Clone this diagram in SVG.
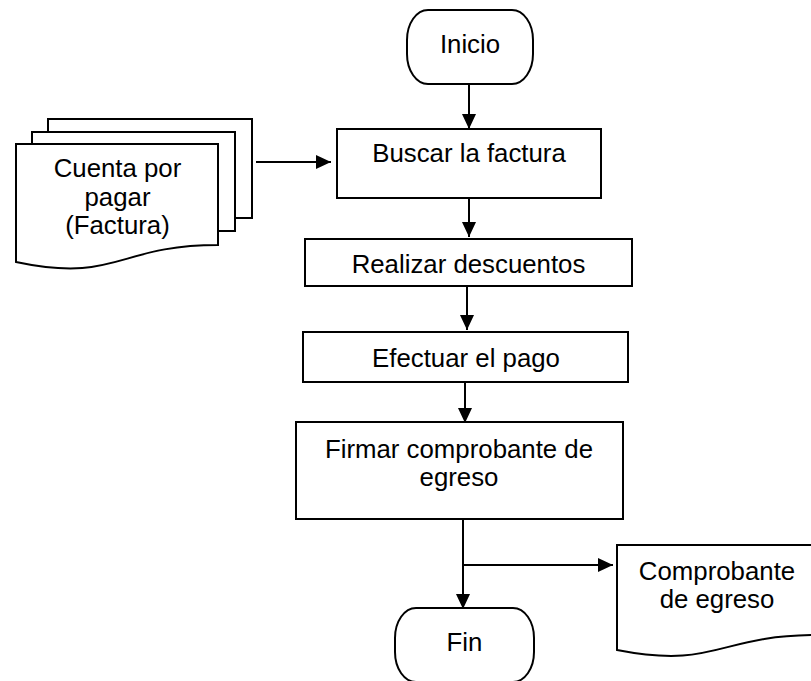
<svg xmlns="http://www.w3.org/2000/svg" width="811" height="681" viewBox="0 0 811 681">
<defs>
<style>
.s{fill:#fff;stroke:#000;stroke-width:2}
.t{font-family:"Liberation Sans",Arial,sans-serif;font-size:25.8px;fill:#000;text-anchor:middle}
.c{fill:none;stroke:#000;stroke-width:2}
</style>
<marker id="ah" markerUnits="userSpaceOnUse" markerWidth="16" markerHeight="14" refX="15" refY="7" orient="auto">
<path d="M0,0 L15,7 L0,14 Z" fill="#000"/>
</marker>
</defs>
<rect width="811" height="681" fill="#fff"/>
<g id="inicio">
<rect class="s" x="407" y="10" width="126" height="74" rx="21" ry="30"/>
<text class="t" x="470" y="53">Inicio</text>
</g>
<g id="cuenta">
<rect class="s" x="48" y="119" width="204" height="99"/>
<rect class="s" x="32" y="132" width="203" height="99"/>
<path class="s" d="M16,144 H218 V245 C117,245 117,283.5 16,262 Z"/>
<text class="t" x="117.5" y="177">Cuenta por</text>
<text class="t" x="117.5" y="206">pagar</text>
<text class="t" x="117.5" y="234">(Factura)</text>
</g>
<g id="buscar">
<rect class="s" x="337" y="129" width="264" height="69"/>
<text class="t" x="469" y="162">Buscar la factura</text>
</g>
<g id="realizar">
<rect class="s" x="305" y="239" width="327" height="47"/>
<text class="t" x="468.5" y="273">Realizar descuentos</text>
</g>
<g id="efectuar">
<rect class="s" x="303" y="332" width="325" height="50"/>
<text class="t" x="466" y="367">Efectuar el pago</text>
</g>
<g id="firmar">
<rect class="s" x="296" y="422" width="327" height="97"/>
<text class="t" x="459" y="458">Firmar comprobante de</text>
<text class="t" x="459" y="486">egreso</text>
</g>
<g id="comprobante">
<path class="s" d="M617,545 H817 V635 C717,635 717,669.5 617,650 Z"/>
<text class="t" x="717" y="580">Comprobante</text>
<text class="t" x="717" y="608">de egreso</text>
</g>
<g id="fin">
<rect class="s" x="395" y="608" width="139" height="74" rx="21" ry="30"/>
<text class="t" x="464.5" y="651">Fin</text>
</g>
<g id="connectors">
<line class="c" x1="469" y1="84" x2="469" y2="129" marker-end="url(#ah)"/>
<line class="c" x1="256" y1="162" x2="331" y2="162" marker-end="url(#ah)"/>
<line class="c" x1="469" y1="198" x2="469" y2="237" marker-end="url(#ah)"/>
<line class="c" x1="467" y1="286" x2="467" y2="330" marker-end="url(#ah)"/>
<line class="c" x1="465" y1="382" x2="465" y2="423" marker-end="url(#ah)"/>
<line class="c" x1="463" y1="519" x2="463" y2="609" marker-end="url(#ah)"/>
<line class="c" x1="463" y1="565" x2="613" y2="565" marker-end="url(#ah)"/>
</g>
</svg>
